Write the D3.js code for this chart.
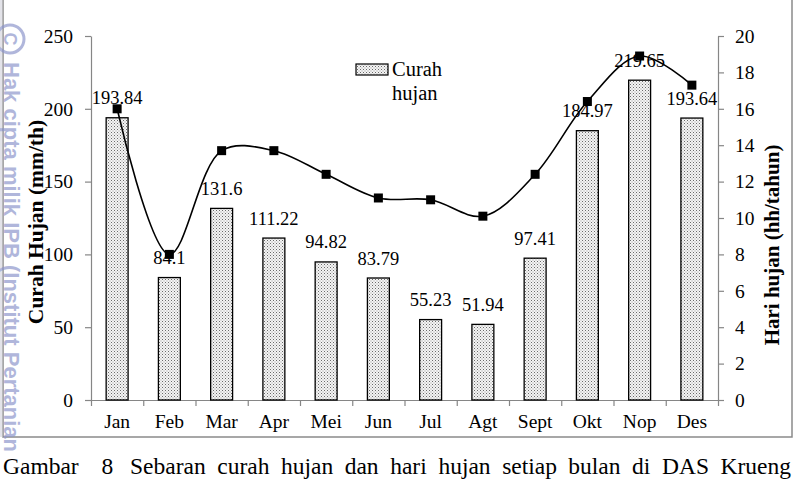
<!DOCTYPE html>
<html><head><meta charset="utf-8">
<script src="https://cdn.jsdelivr.net/npm/d3@7"></script>
<style>
html,body{margin:0;padding:0;background:#fff;}
svg{display:block;}
</style></head>
<body>
<svg id="chart" width="796" height="482"></svg>
<script>
const months = ["Jan","Feb","Mar","Apr","Mei","Jun","Jul","Agt","Sept","Okt","Nop","Des"];
const curahHujan = [193.84, 84.1, 131.6, 111.22, 94.82, 83.79, 55.23, 51.94, 97.41, 184.97, 219.65, 193.64];
const hariHujan = [16, 8, 13.7, 13.7, 12.4, 11.1, 11, 10.1, 12.4, 16.4, 18.9, 17.3];
const leftTicks = [0, 50, 100, 150, 200, 250];
const rightTicks = [0, 2, 4, 6, 8, 10, 12, 14, 16, 18, 20];
const captionWords = ["Gambar","8","Sebaran","curah","hujan","dan","hari","hujan","setiap","bulan","di","DAS","Krueng"];
const watermarkText = "Hak cipta milik IPB (Institut Pertanian";

const svg = d3.select("#chart");
const serif = "'Liberation Serif','Times New Roman',serif";
const L = 91, R = 718, T = 36, B = 400;

// pattern
const defs = svg.append("defs");
const pat = defs.append("pattern").attr("id","dots").attr("patternUnits","userSpaceOnUse")
  .attr("width",3).attr("height",3);
pat.append("rect").attr("width",3).attr("height",3).attr("fill","#f4f4f4");
pat.append("rect").attr("x",0).attr("y",0).attr("width",1).attr("height",1).attr("fill","#6a6a6a");
pat.append("rect").attr("x",1.5).attr("y",1.5).attr("width",1).attr("height",1).attr("fill","#9a9a9a");

// frame
svg.append("path").attr("d",`M3,0 V437 H792 V0`).attr("fill","none").attr("stroke","#8a8a8a").attr("stroke-width",1.5);

const x = d3.scaleBand().domain(months).range([L, R]).paddingInner(0.58).paddingOuter(0.29);
const xEdge = d3.scaleLinear().domain([0, months.length]).range([L, R]);
const yL = d3.scaleLinear().domain([0, 250]).range([B, T]);
const yR = d3.scaleLinear().domain([0, 20]).range([B, T]);

function styleAxis(g){
  g.select(".domain").attr("stroke","#868686").attr("stroke-width",1.2);
  g.selectAll(".tick line").attr("stroke","#868686").attr("stroke-width",1.2);
  g.selectAll("text").attr("font-family",serif).attr("font-size",19.5).attr("fill","#000");
}

// left axis
svg.append("g").attr("transform",`translate(${L},0)`)
  .call(d3.axisLeft(yL).tickValues(leftTicks).tickSize(6).tickSizeOuter(0).tickPadding(12))
  .call(styleAxis);
// right axis
svg.append("g").attr("transform",`translate(${R},0)`)
  .call(d3.axisRight(yR).tickValues(rightTicks).tickSize(6).tickSizeOuter(0).tickPadding(11))
  .call(styleAxis);
// bottom axis ticks at boundaries
svg.append("g").attr("transform",`translate(0,${B})`)
  .call(d3.axisBottom(xEdge).ticks(12).tickSize(6).tickSizeOuter(0).tickFormat(""))
  .call(styleAxis);
// bottom labels
svg.append("g").attr("transform",`translate(0,${B})`)
  .call(d3.axisBottom(x).tickSize(0).tickPadding(14))
  .call(g => { g.select(".domain").remove(); })
  .call(g => g.selectAll("text").attr("font-family",serif).attr("font-size",19.5).attr("fill","#000"));

// bars
svg.append("g").selectAll("rect").data(months).join("rect")
  .attr("x", d => x(d)).attr("width", x.bandwidth())
  .attr("y", (d,i) => yL(curahHujan[i])).attr("height", (d,i) => B - yL(curahHujan[i]))
  .attr("fill","url(#dots)").attr("stroke","#000").attr("stroke-width",1.3);

// line
const cx = d => x(d) + x.bandwidth()/2;
const line = d3.line().x((d,i) => cx(months[i])).y(d => yR(d)).curve(d3.curveCatmullRom.alpha(0.5));
svg.append("path").datum(hariHujan).attr("d", line).attr("fill","none").attr("stroke","#000").attr("stroke-width",1.6);
svg.append("g").selectAll("rect").data(hariHujan).join("rect")
  .attr("x",(d,i) => cx(months[i]) - 4.5).attr("y", d => yR(d) - 4.5)
  .attr("width",9).attr("height",9).attr("fill","#000");

// data labels
svg.append("g").selectAll("text").data(curahHujan).join("text")
  .attr("x",(d,i) => cx(months[i])).attr("y", d => yL(d) - 13.5)
  .attr("text-anchor","middle").attr("font-family",serif).attr("font-size",18.5).attr("fill","#000")
  .text(d => String(d));

// axis titles
svg.append("text").attr("transform","translate(43,222) rotate(-90)")
  .attr("text-anchor","middle").attr("font-family",serif).attr("font-weight","bold").attr("font-size",21.5)
  .text("Curah Hujan (mm/th)");
svg.append("text").attr("transform","translate(779,245) rotate(-90)")
  .attr("text-anchor","middle").attr("font-family",serif).attr("font-weight","bold").attr("font-size",21)
  .text("Hari hujan (hh/tahun)");

// legend
svg.append("rect").attr("x",356).attr("y",64).attr("width",32).attr("height",11)
  .attr("fill","url(#dots)").attr("stroke","#000").attr("stroke-width",1.2);
const lt = svg.append("text").attr("font-family",serif).attr("font-size",20.5).attr("fill","#000");
lt.append("tspan").attr("x",392).attr("y",76).text("Curah");
lt.append("tspan").attr("x",392).attr("y",100).text("hujan");

// caption, justified
const cap = svg.append("g");
const words = cap.selectAll("text").data(captionWords).join("text")
  .attr("y",474).attr("font-family",serif).attr("font-size",23.5).attr("fill","#000").text(d => d);
const widths = [];
words.each(function(){ widths.push(this.getBBox().width); });
const x0 = 3, x1 = 791;
const gapWeights = captionWords.slice(1).map((w,i) => i === 0 ? 2.0 : (i === 1 ? 1.5 : 1));
const totalGap = (x1 - x0) - d3.sum(widths);
const unit = totalGap / d3.sum(gapWeights);
let pos = x0;
words.each(function(d,i){
  if (i === captionWords.length - 1) {
    d3.select(this).attr("x", x1).attr("text-anchor","end");
  } else {
    d3.select(this).attr("x", pos);
  }
  pos += widths[i] + (i < gapWeights.length ? gapWeights[i]*unit : 0);
});

// watermark
const wm = svg.append("g").attr("opacity",0.7);
wm.append("rect").attr("x",0).attr("y",0).attr("width",2.5).attr("height",437).attr("fill","#d8d8e0");
wm.append("circle").attr("cx",10).attr("cy",39).attr("r",14).attr("fill","none").attr("stroke","#8f98cc").attr("stroke-width",3);
wm.append("text").attr("transform","translate(4,39) rotate(90)").attr("text-anchor","middle")
  .attr("font-family","'Liberation Sans',Arial,sans-serif").attr("font-weight","bold").attr("font-size",18)
  .attr("fill","#8f98cc").text("C");
wm.append("text").attr("transform","translate(4,62) rotate(90)")
  .attr("font-family","'Liberation Sans',Arial,sans-serif").attr("font-weight","bold").attr("font-size",22)
  .attr("fill","#8f98cc").text(watermarkText);
</script>
</body></html>
